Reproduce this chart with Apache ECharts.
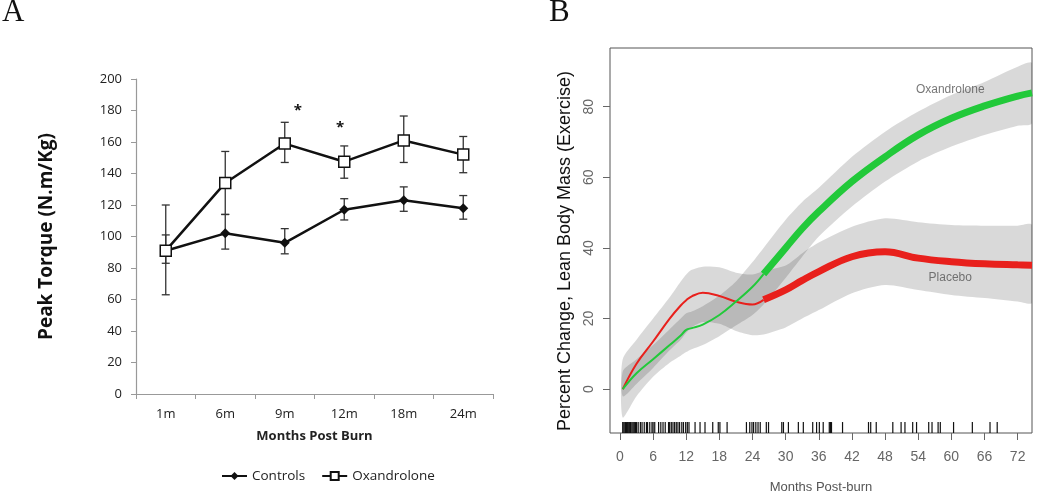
<!DOCTYPE html>
<html>
<head>
<meta charset="utf-8">
<script src="https://cdn.jsdelivr.net/npm/echarts@6/dist/echarts.min.js"></script>
<style>
  html, body { margin: 0; padding: 0; background: #fff; }
  #chart { width: 1050px; height: 493px; }
</style>
</head>
<body>
<div id="chart"></div>
<script>
// ---- panel A : peak torque by visit ----
var visits = ['1m', '6m', '9m', '12m', '18m', '24m'];
var controls = [91, 102, 96, 117, 123, 118];
var controlsLow = [83, 92, 89, 110.5, 116, 111];
var controlsHigh = [101, 114, 105, 124, 131.5, 126];
var oxandrolone = [91, 134, 159, 147.5, 161, 152];
var oxandroloneLow = [63, 114, 147, 137, 147, 140.5];
var oxandroloneHigh = [120, 154, 172.5, 157.5, 176.5, 163.5];
var sigVisits = ['9m', '12m'];
var sigValues = [180, 169];

// ---- panel B : lean body mass smoothers ----
var months = [0.5, 3, 6, 9, 11, 12, 13, 15, 18, 21, 24, 26, 30, 33, 36, 42, 48, 54, 60, 66, 72, 74.6];
var oxaFit = [0, 4.5, 8.5, 12.5, 15.2, 16.8, 17.3, 18.3, 21, 24.8, 29, 32.6, 40, 45.5, 50.3, 58.8, 65.8, 72, 76.7, 80.2, 83, 83.9];
var oxaLow = [-8, -2, 3.5, 7.5, 9.5, 10.5, 11.3, 12.5, 15, 18, 21, 24, 31.5, 37.5, 43.2, 51.7, 58.8, 64.5, 68.7, 72, 74.6, 75.3];
var oxaHigh = [5, 8.5, 12.5, 17, 20, 21.5, 22, 23.5, 26.5, 30.5, 36, 40, 48, 53, 57, 65.8, 72.9, 78.6, 83.3, 87, 91.3, 92.3];
var plaFit = [0, 7.2, 13.5, 20, 23.7, 25.2, 26.3, 27.3, 26.4, 24.8, 24, 25.3, 28.1, 30.8, 33.3, 37.5, 38.9, 37.1, 36.1, 35.5, 35.2, 35.1];
var plaLow = [-2, 1.5, 6, 11, 14, 16, 17.5, 19, 18.5, 16.5, 15.3, 15.5, 17.5, 20, 22.4, 27.2, 29.5, 28.1, 26.7, 25.8, 24.8, 24.5];
var plaHigh = [8.5, 14, 20, 26, 30.5, 32.5, 33.8, 34.7, 34.5, 33, 32.5, 33.5, 35, 38.5, 41.5, 46, 48.4, 47.3, 46.5, 46.3, 46.3, 46.5];
var rugMonths = [0.5, 0.7, 0.9, 1.0, 1.2, 1.4, 1.5, 1.7, 1.9, 2.0, 2.2, 2.4, 2.6, 2.8, 3.0, 3.3, 3.7, 4.0, 4.4, 4.8,
  5.0, 5.4, 5.8, 6.0, 6.3, 7.0, 7.4, 7.8, 8.2, 8.8, 9.0, 9.3, 9.6, 9.9, 10.2, 10.5, 10.8, 11.2, 11.5, 11.9, 12.2, 12.5,
  13.6, 14.5, 15.4, 16.8, 17.8, 18.1, 19.4, 22.9, 23.5, 23.9, 24.2, 24.6, 25.0, 25.4, 26.5, 26.9, 29.3, 29.6, 30.5,
  32.3, 33.2, 34.9, 35.6, 36.1, 36.8, 37.9, 38.1, 38.3, 40.3, 45.0, 45.4, 46.4, 49.4, 50.9, 51.6, 53.0, 53.7, 55.9,
  56.5, 57.6, 58.0, 60.4, 63.8, 67.0, 68.3];
var monthTicks = [0, 6, 12, 18, 24, 30, 36, 42, 48, 54, 60, 66, 72];
var pctTicks = [0, 20, 40, 60, 80];
var curveNames = ['Oxandrolone', 'Placebo'];
var curveNameMonth = [59.8, 59.8];
var curveNameValue = [84.7, 31.5];

var splitAt = 26; // smoothers drawn thick after this month

var chart = echarts.init(document.getElementById('chart'));

function part(ys, thick) {
  return months.map(function (m, i) { return [m, ys[i]]; })
    .filter(function (p) { return thick ? p[0] >= splitAt : p[0] <= splitAt; });
}

function errorBars(lo, hi) {
  return {
    type: 'custom',
    xAxisIndex: 0, yAxisIndex: 0,
    silent: true, z: 1,
    data: visits.map(function (v, i) { return [i, lo[i], hi[i]]; }),
    encode: { x: 0, y: [1, 2] },
    renderItem: function (params, api) {
      var top = api.coord([api.value(0), api.value(2)]);
      var bot = api.coord([api.value(0), api.value(1)]);
      var w = 4;
      var st = { stroke: '#333', lineWidth: 1.3 };
      return {
        type: 'group',
        children: [
          { type: 'line', shape: { x1: top[0], y1: top[1], x2: bot[0], y2: bot[1] }, style: st },
          { type: 'line', shape: { x1: top[0] - w, y1: top[1], x2: top[0] + w, y2: top[1] }, style: st },
          { type: 'line', shape: { x1: bot[0] - w, y1: bot[1], x2: bot[0] + w, y2: bot[1] }, style: st }
        ]
      };
    }
  };
}

// confidence band: one smoothed polygon, upper edge out and lower edge back
function band(lo, hi) {
  return {
    type: 'custom', xAxisIndex: 1, yAxisIndex: 1, silent: true, z: 1, clip: true,
    data: months.map(function (m, i) { return [m, lo[i], hi[i]]; }),
    encode: { x: 0, y: [1, 2] },
    renderItem: function (params, api) {
      if (params.dataIndex !== 0) return null;
      var pts = [];
      var i;
      for (i = 0; i < months.length; i++) pts.push(api.coord([months[i], hi[i]]));
      for (i = months.length - 1; i >= 0; i--) pts.push(api.coord([months[i], lo[i]]));
      return {
        type: 'polygon',
        shape: { points: pts, smooth: 0.25 },
        style: { fill: 'rgba(0,0,0,0.15)' }
      };
    }
  };
}

function fit(name, ys, color, thick) {
  return {
    name: name, type: 'line', xAxisIndex: 1, yAxisIndex: 1,
    symbol: 'none', smooth: 0.4, silent: true, z: 3,
    data: part(ys, thick),
    lineStyle: { color: color, width: thick ? 7 : 2 }
  };
}

var option = {
  animation: false,
  textStyle: { fontFamily: 'Liberation Sans' },
  graphic: [
    { type: 'text', left: 2, top: -3, style: { text: 'A', font: '31px "Liberation Serif"', fill: '#111' } },
    { type: 'text', left: 549, top: -3, style: { text: 'B', font: '31px "Liberation Serif"', fill: '#111' } },
    {
      type: 'text', x: 565, y: 251, rotation: Math.PI / 2,
      style: {
        text: 'Percent Change, Lean Body Mass (Exercise)', font: '18px "Liberation Sans"',
        fill: '#111', align: 'center', verticalAlign: 'middle'
      }
    }
  ],
  legend: {
    data: ['Controls', 'Oxandrolone'],
    left: 216, top: 464,
    itemWidth: 25, itemHeight: 10, itemGap: 16,
    textStyle: { fontFamily: 'Open Sans', fontSize: 13.5, color: '#222' }
  },
  grid: [
    { left: 136, right: 557, top: 79, bottom: 99, outerBoundsMode: 'none' },
    {
      left: 610, right: 18, top: 48, bottom: 60, outerBoundsMode: 'none',
      show: true, borderColor: '#555', borderWidth: 1, backgroundColor: 'transparent'
    }
  ],
  xAxis: [
    {
      gridIndex: 0, type: 'category', data: visits, boundaryGap: true,
      name: 'Months Post Burn', nameLocation: 'middle', nameGap: 36,
      nameTextStyle: { fontFamily: 'Open Sans', fontWeight: 'bold', fontSize: 13, color: '#222' },
      axisLine: { lineStyle: { color: '#999', width: 1.2 } },
      axisTick: { show: true, length: 5, lineStyle: { color: '#999' } },
      axisLabel: { margin: 14, fontFamily: 'Open Sans', fontSize: 13, color: '#222' },
      splitLine: { show: false }
    },
    {
      gridIndex: 1, type: 'value', min: -1.8, max: 74.6,
      name: 'Months Post-burn', nameLocation: 'middle', nameGap: 48,
      nameTextStyle: { fontSize: 13, color: '#555' },
      axisLine: { show: false, onZero: false },
      axisTick: { show: true, length: 7, customValues: monthTicks, lineStyle: { color: '#666' } },
      axisLabel: { margin: 17, fontSize: 14, color: '#666', customValues: monthTicks },
      splitLine: { show: false }
    }
  ],
  yAxis: [
    {
      gridIndex: 0, type: 'value', min: 0, max: 200, interval: 20,
      name: 'Peak Torque (N.m/Kg)', nameLocation: 'middle', nameGap: 80, nameRotate: 90,
      nameTextStyle: { fontFamily: 'Open Sans', fontWeight: 'bold', fontSize: 19, color: '#111' },
      axisLine: { show: true, lineStyle: { color: '#999', width: 1.2 } },
      axisTick: { show: true, length: 5, lineStyle: { color: '#999' } },
      axisLabel: { margin: 14, fontFamily: 'Open Sans', fontSize: 13, color: '#222' },
      splitLine: { show: false }
    },
    {
      gridIndex: 1, type: 'value', min: -12.4, max: 96.6,
      axisLine: { show: false, onZero: false },
      axisTick: { show: true, length: 7, customValues: pctTicks, lineStyle: { color: '#666' } },
      axisLabel: { margin: 14, fontSize: 14, color: '#666', rotate: 90, customValues: pctTicks },
      splitLine: { show: false }
    }
  ],
  series: [
    errorBars(controlsLow, controlsHigh),
    errorBars(oxandroloneLow, oxandroloneHigh),
    {
      name: 'Controls', type: 'line', xAxisIndex: 0, yAxisIndex: 0, z: 3,
      data: controls, symbol: 'diamond', symbolSize: 10,
      lineStyle: { color: '#111', width: 2.5 },
      itemStyle: { color: '#111' }
    },
    {
      name: 'Oxandrolone', type: 'line', xAxisIndex: 0, yAxisIndex: 0, z: 4,
      data: oxandrolone, symbol: 'rect', symbolSize: 11,
      lineStyle: { color: '#111', width: 2.5 },
      itemStyle: { color: '#fff', borderColor: '#111', borderWidth: 1.5 }
    },
    {
      type: 'custom', xAxisIndex: 0, yAxisIndex: 0, silent: true, z: 5,
      data: sigVisits.map(function (v, i) { return [visits.indexOf(v), sigValues[i]]; }),
      renderItem: function (params, api) {
        var nudge = [0.22, -0.07][params.dataIndex]; // asterisks sit a little off the visit
        var p = api.coord([api.value(0), api.value(1)]);
        var w = api.size([1, 0])[0];
        return {
          type: 'text', x: p[0] + nudge * w, y: p[1],
          style: { text: '*', font: 'bold 15px "Open Sans"', fill: '#111', align: 'center', verticalAlign: 'middle' }
        };
      }
    },
    band(plaLow, plaHigh),
    band(oxaLow, oxaHigh),
    fit('plaThin', plaFit, '#e8201c', false),
    fit('plaThick', plaFit, '#e8201c', true),
    fit('oxaThin', oxaFit, '#22c93a', false),
    fit('oxaThick', oxaFit, '#22c93a', true),
    {
      type: 'custom', xAxisIndex: 1, yAxisIndex: 1, silent: true, z: 2,
      data: rugMonths.map(function (m) { return [m]; }),
      renderItem: function (params, api) {
        var top = api.coord([api.value(0), -9.3]);
        var bot = api.coord([api.value(0), -12.4]);
        return {
          type: 'line',
          shape: { x1: top[0], y1: top[1], x2: bot[0], y2: bot[1] },
          style: { stroke: '#111', lineWidth: 1.2 }
        };
      }
    },
    {
      type: 'scatter', xAxisIndex: 1, yAxisIndex: 1, silent: true, symbolSize: 0, z: 4,
      data: curveNames.map(function (n, i) { return { value: [curveNameMonth[i], curveNameValue[i]], name: n }; }),
      label: { show: true, position: 'inside', formatter: '{b}', fontSize: 12, color: '#555' }
    }
  ]
};

chart.setOption(option);
</script>
</body>
</html>
